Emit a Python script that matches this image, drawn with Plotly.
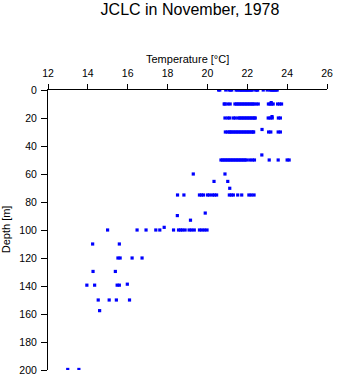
import plotly.graph_objects as go

# ---- data (temperature in °C, depth in m) ----
temp_0 = [20.56, 20.62, 20.92, 21.08, 21.16, 21.22, 21.44, 21.5, 21.6, 21.66,
          21.72, 21.78, 21.84, 21.9, 21.96, 22.02, 22.08, 22.14, 22.2, 22.25,
          22.42, 22.48, 22.52, 22.8, 23.14, 23.2, 23.26, 23.32, 23.38, 23.44,
          23.5, 23.0]
depth_0 = [0] * len(temp_0)

temp_10 = [20.84, 20.88, 21.02, 21.14, 21.38, 21.46, 21.54, 21.62, 21.7, 21.78,
           21.86, 21.94, 22.02, 22.1, 22.18, 22.26, 22.33, 22.44, 22.55, 23.06,
           23.14, 23.22, 23.3, 23.52, 23.62, 23.72]
depth_10 = [10] * len(temp_10)

temp_20 = [20.88, 21.02, 21.12, 21.3, 21.4, 21.55, 21.63, 21.71, 21.79, 21.87,
           21.95, 22.03, 22.11, 22.19, 22.27, 22.35, 22.4, 23.05, 23.15, 23.25,
           23.56, 23.66]
depth_20 = [20] * len(temp_20)

temp_30 = [20.9, 21.0, 21.1, 21.16, 21.24, 21.32, 21.4, 21.48, 21.56, 21.64,
           21.72, 21.8, 21.88, 21.96, 22.04, 22.12, 22.2, 22.28, 22.32, 23.07,
           23.18, 23.55, 23.66]
depth_30 = [30] * len(temp_30)

temp_50 = [20.68, 20.76, 20.84, 20.92, 21.0, 21.08, 21.16, 21.24, 21.32, 21.4,
           21.48, 21.56, 21.64, 21.72, 21.8, 21.88, 21.96, 22.12, 22.25, 22.36,
           23.1, 23.55, 24.0, 24.1]
depth_50 = [50] * len(temp_50)

temp_75 = [18.5, 18.82, 19.6, 19.7, 19.8, 20.0, 20.1, 20.25, 20.35, 20.46,
           21.1, 21.2, 21.3, 21.52, 21.72, 22.08, 22.2, 22.34]
depth_75 = [75] * len(temp_75)

temp_100 = [14.99, 16.47, 16.92, 17.41, 17.61, 18.3, 18.55, 18.65, 18.75, 18.88,
            19.08, 19.2, 19.34, 19.6, 19.72, 19.85, 19.98]
depth_100 = [100] * len(temp_100)

temp_other = [23.2, 23.24, 22.74, 22.73, 19.29, 20.88, 20.33, 21.02, 21.12,
              19.89, 18.49, 19.15, 17.83,
              14.24, 15.58,
              15.51, 15.62, 16.22, 16.72,
              14.26, 15.38,
              13.95, 14.34, 15.47, 15.58, 15.98,
              14.52, 15.07, 15.43, 16.09,
              14.59,
              12.99, 13.55]
depth_other = [9, 19, 28.2, 46.4, 60, 60, 65.3, 65.3, 70.2,
               87.9, 89.7, 93, 98.1,
               110, 110,
               120, 120, 120, 120,
               129.6, 129.6,
               139.4, 139.4, 139.4, 139.4, 138.7,
               150, 150, 150, 150,
               157.6,
               199.6, 199.6]

temps = temp_0 + temp_10 + temp_20 + temp_30 + temp_50 + temp_75 + temp_100 + temp_other
depths = depth_0 + depth_10 + depth_20 + depth_30 + depth_50 + depth_75 + depth_100 + depth_other

x_ticks = [12, 14, 16, 18, 20, 22, 24, 26]
y_ticks = [0, 20, 40, 60, 80, 100, 120, 140, 160, 180, 200]

FONT = "Liberation Sans, Arial, sans-serif"

fig = go.Figure(
    go.Scatter(
        x=temps, y=depths, mode="markers",
        marker=dict(symbol="square", size=3.2, color="#0000ff", line=dict(width=0)),
        hoverinfo="skip",
    )
)

W, H = 341, 384
L, R, T, B = 48, 9, 90, 8

fig.update_layout(
    width=W, height=H,
    margin=dict(l=L, r=R, t=T, b=B, pad=0),
    paper_bgcolor="white", plot_bgcolor="white",
    showlegend=False,
    font=dict(family=FONT, size=10, color="black"),
    title=dict(text="JCLC in November, 1978", x=(L + (W - L - R) / 2) / W, xanchor="center",
               xref="container", yref="container", y=1 - 9 / H, yanchor="middle",
               font=dict(family=FONT, size=16, color="black")),
    xaxis=dict(
        side="top", range=[12, 26], tickvals=x_ticks, ticktext=[str(v) for v in x_ticks],
        ticks="outside", ticklen=5, tickcolor="black", tickwidth=1,
        showline=True, linecolor="black", linewidth=1, mirror=False,
        showgrid=False, zeroline=False, ticklabelstandoff=3,
        tickfont=dict(family=FONT, size=10.5, color="black"),
    ),
    yaxis=dict(
        range=[200, 0], tickvals=y_ticks, ticktext=[str(v) for v in y_ticks],
        ticks="outside", ticklen=6, tickcolor="black", tickwidth=1,
        showline=True, linecolor="black", linewidth=1, mirror=False,
        showgrid=False, zeroline=False, ticklabelstandoff=2,
        tickfont=dict(family=FONT, size=10.5, color="black"),
    ),
    annotations=[
        dict(text="Temperature [°C]", xref="paper", yref="paper",
             x=0.5, y=1 + (T - 58) / (H - T - B), xanchor="center", yanchor="middle",
             showarrow=False, font=dict(family=FONT, size=11, color="black")),
        dict(text="Depth [m]", xref="paper", yref="paper",
             x=(5.5 - L) / (W - L - R), y=1 - (232 - T) / (H - T - B),
             xanchor="center", yanchor="middle", textangle=-90,
             showarrow=False, font=dict(family=FONT, size=11, color="black")),
    ],
)

fig.write_html("out.html")
